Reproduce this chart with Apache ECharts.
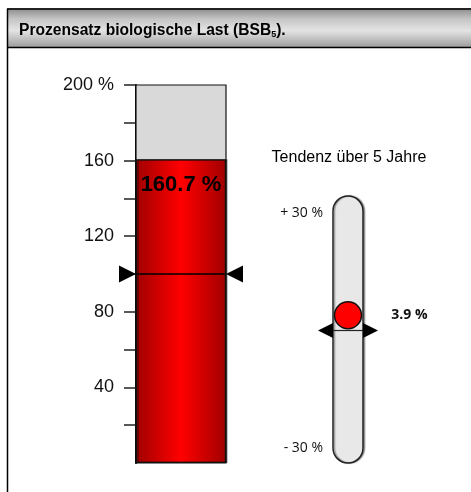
<!DOCTYPE html>
<html>
<head>
<meta charset="utf-8">
<script src="https://cdn.jsdelivr.net/npm/echarts@6/dist/echarts.min.js"></script>
<style>
html,body{margin:0;padding:0;background:#fff;}
#chart{width:471px;height:492px;}
</style>
</head>
<body>
<div id="chart"></div>
<script>
// ---- data ----
const categories = ['BSB5'];
const loadValues = [160.7];
const referenceLevel = [100];
const loadAxisMin = 0;
const loadAxisMax = 200;
const loadTickValues = [20, 40, 60, 80, 100, 120, 140, 160, 180, 200];
const loadLabelValues = [40, 80, 120, 160, 200];
const loadTickLabels = { 200: '200 %', 160: '160', 120: '120', 80: '80', 40: '40' };
const trendValues = [3.9];
const trendZero = [0];
const trendAxisMin = -30;
const trendAxisMax = 30;
const trendTickLabels = { 30: '+ 30 %', '-30': '- 30 %' };
const titleText = 'Prozensatz biologische Last (BSB';
const titleSub = '5';
const titleEnd = ').';
const trendTitle = 'Tendenz über 5 Jahre';

const chart = echarts.init(document.getElementById('chart'), null, { renderer: 'canvas' });

const redGradient = new echarts.graphic.LinearGradient(0, 0, 1, 0, [
  { offset: 0, color: '#a00000' },
  { offset: 0.5, color: '#ff0000' },
  { offset: 1, color: '#a00000' }
]);

function renderRefLine(params, api) {
  const cs = params.coordSys;
  const y = api.coord([api.value(0), api.value(1)])[1];
  const x0 = cs.x, x1 = cs.x + cs.width;
  return {
    type: 'group',
    children: [
      { type: 'line', shape: { x1: x0, y1: y, x2: x1, y2: y }, style: { stroke: '#000', lineWidth: 1.5 } },
      { type: 'polygon', shape: { points: [[x0 - 17, y - 8.5], [x0, y], [x0 - 17, y + 8.5]] }, style: { fill: '#000' } },
      { type: 'polygon', shape: { points: [[x1 + 17, y - 8.5], [x1, y], [x1 + 17, y + 8.5]] }, style: { fill: '#000' } }
    ]
  };
}

function renderPill(params, api) {
  const cs = params.coordSys;
  return {
    type: 'rect',
    shape: { x: cs.x, y: cs.y - 17, width: cs.width, height: cs.height + 32, r: 15 },
    style: { fill: '#e8e8e8', stroke: '#222', lineWidth: 1.5, shadowColor: 'rgba(0,0,0,0.35)', shadowOffsetX: 1.5, shadowBlur: 1 }
  };
}

function renderZeroLine(params, api) {
  const cs = params.coordSys;
  const y = api.coord([0, api.value(1)])[1];
  const x0 = cs.x, x1 = cs.x + cs.width;
  return {
    type: 'group',
    children: [
      { type: 'line', shape: { x1: x0, y1: y, x2: x1, y2: y }, style: { stroke: '#222', lineWidth: 1.2 } },
      { type: 'polygon', shape: { points: [[x0, y - 7.5], [x0 - 15, y], [x0, y + 7.5]] }, style: { fill: '#000' } },
      { type: 'polygon', shape: { points: [[x1, y - 7.5], [x1 + 15, y], [x1, y + 7.5]] }, style: { fill: '#000' } }
    ]
  };
}

const option = {
  backgroundColor: '#fff',
  animation: false,
  graphic: [
    {
      type: 'rect', z: -10,
      shape: { x: 7, y: 9, width: 470, height: 39 },
      style: {
        fill: new echarts.graphic.LinearGradient(0, 0, 0, 1, [
          { offset: 0, color: '#8e8e8e' },
          { offset: 0.25, color: '#c4c4c4' },
          { offset: 0.55, color: '#e4e4e4' },
          { offset: 1, color: '#9a9a9a' }
        ])
      }
    },
    { type: 'line', z: -5, shape: { x1: 7, y1: 9, x2: 471, y2: 9 }, style: { stroke: '#222', lineWidth: 2 } },
    { type: 'line', z: -5, shape: { x1: 7, y1: 47.5, x2: 471, y2: 47.5 }, style: { stroke: '#000', lineWidth: 1.5 } },
    { type: 'line', z: -5, shape: { x1: 7.5, y1: 9, x2: 7.5, y2: 492 }, style: { stroke: '#000', lineWidth: 1.5 } }
  ],
  title: [
    {
      left: 19, top: 22, padding: 0,
      text: '{b|' + titleText + '}{s|' + titleSub + '}{b|' + titleEnd + '}',
      textStyle: {
        rich: {
          b: { fontFamily: 'Liberation Sans, Arial', fontWeight: 'bold', fontSize: 15.6, color: '#000', lineHeight: 18 },
          s: { fontFamily: 'Liberation Sans, Arial', fontWeight: 'bold', fontSize: 9, color: '#000', lineHeight: 18, padding: [7, 0, 0, 0] }
        }
      }
    },
    {
      left: 349, top: 150, padding: 0, textAlign: 'center',
      text: trendTitle,
      textStyle: { fontFamily: 'Liberation Sans, Arial', fontWeight: 'normal', fontSize: 16, color: '#000' }
    }
  ],
  grid: [
    { left: 136, top: 85, width: 90, height: 378 },
    { left: 333, top: 213, width: 30, height: 235 }
  ],
  xAxis: [
    { gridIndex: 0, type: 'category', data: categories, show: false },
    { gridIndex: 1, type: 'value', min: -1, max: 1, show: false }
  ],
  yAxis: [
    {
      gridIndex: 0, type: 'value', min: loadAxisMin, max: loadAxisMax, interval: 20,
      axisLine: { show: true, lineStyle: { color: '#000', width: 2 } },
      axisTick: { show: true, length: 12, customValues: loadTickValues, lineStyle: { color: '#222', width: 1.5 } },
      splitLine: { show: false },
      axisLabel: {
        margin: 22, color: '#111', fontSize: 18, fontFamily: 'Liberation Sans, Arial',
        customValues: loadLabelValues,
        formatter: function (v) { return loadTickLabels[v] || ''; }
      }
    },
    {
      gridIndex: 1, type: 'value', min: trendAxisMin, max: trendAxisMax, interval: 30,
      axisLine: { show: false }, axisTick: { show: false }, splitLine: { show: false },
      axisLabel: {
        margin: 10, color: '#111', fontSize: 14, fontFamily: 'Open Sans',
        formatter: function (v) { return trendTickLabels[v] || ''; }
      }
    }
  ],
  series: [
    {
      type: 'bar', xAxisIndex: 0, yAxisIndex: 0,
      data: loadValues, barWidth: '100%',
      showBackground: true,
      backgroundStyle: { color: '#d9d9d9', borderColor: '#111', borderWidth: 1.2 },
      itemStyle: { color: redGradient, borderColor: '#111', borderWidth: 1.2, shadowColor: 'rgba(0,0,0,0.45)', shadowOffsetX: 1.5 },
      label: {
        show: true, position: 'insideTop', distance: 15,
        formatter: function (p) { return p.value.toFixed(1) + ' %'; },
        fontFamily: 'Liberation Sans, Arial', fontWeight: 'bold', fontSize: 22, color: '#000'
      },
      z: 2
    },
    {
      type: 'custom', xAxisIndex: 0, yAxisIndex: 0,
      data: referenceLevel.map(function (v) { return [0, v]; }),
      renderItem: renderRefLine, z: 5, silent: true
    },
    {
      type: 'custom', xAxisIndex: 1, yAxisIndex: 1,
      data: [[0, 0]],
      renderItem: renderPill, z: 1, silent: true
    },
    {
      type: 'custom', xAxisIndex: 1, yAxisIndex: 1,
      data: trendZero.map(function (v) { return [0, v]; }),
      renderItem: renderZeroLine, z: 3, silent: true
    },
    {
      type: 'scatter', xAxisIndex: 1, yAxisIndex: 1,
      data: trendValues.map(function (v) { return [0, v]; }),
      symbol: 'circle', symbolSize: 27,
      itemStyle: { color: '#ff0000', borderColor: '#111', borderWidth: 1.5, opacity: 1 },
      label: {
        show: true, position: 'right', distance: 29,
        formatter: function (p) { return p.value[1].toFixed(1) + ' %'; },
        fontFamily: 'Open Sans', fontWeight: 'bold', fontSize: 14, color: '#111'
      },
      z: 6
    }
  ]
};
chart.setOption(option);
</script>
</body>
</html>
